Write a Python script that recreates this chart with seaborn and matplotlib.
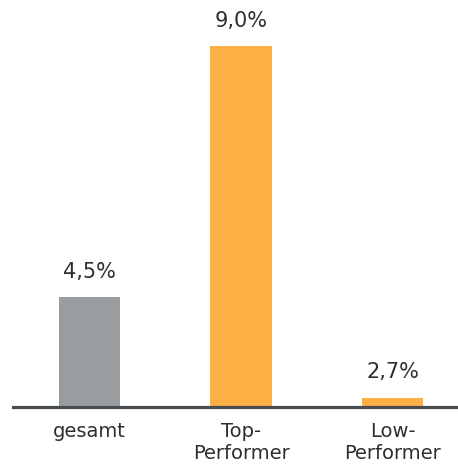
import matplotlib
matplotlib.use("Agg")
import matplotlib.pyplot as plt
import seaborn as sns

categories = ["gesamt", "Top-\nPerformer", "Low-\nPerformer"]
values = [4.5, 9.0, 2.7]
value_labels = ["4,5%", "9,0%", "2,7%"]
bar_colors = ["#999da0", "#fdb144", "#fdb144"]

sns.set_style("white")
plt.rcParams["font.family"] = ["DejaVu Sans"]

fig = plt.figure(figsize=(4.58, 4.70), dpi=100)
ax = fig.add_axes([13 / 458, 63.5 / 470, 1 - 13 / 458, 406.5 / 470])

sns.barplot(x=categories, y=values, hue=categories, palette=bar_colors,
            width=0.405, saturation=1, legend=False, linewidth=0, ax=ax)

# the original chart does not start the value axis at zero
ax.set_ylim(2.54, 9.83)
ax.set_xlim(-0.505, 2.432)

for i, (v, lab) in enumerate(zip(values, value_labels)):
    ax.annotate(lab, (i, v), xytext=(0, 18.5), textcoords="offset points",
                ha="center", va="center", fontsize=15, color="#2e2e2e")

for side in ["top", "right", "left"]:
    ax.spines[side].set_visible(False)
ax.spines["bottom"].set_linewidth(2.3)
ax.spines["bottom"].set_color("#474c51")

ax.set_yticks([])
ax.set_xlabel("")
ax.set_ylabel("")
ax.tick_params(axis="x", length=0, pad=11, labelsize=14, labelcolor="#2e2e2e")
for t in ax.get_xticklabels():
    t.set_linespacing(1.2)

fig.savefig("out.png", dpi=100)
